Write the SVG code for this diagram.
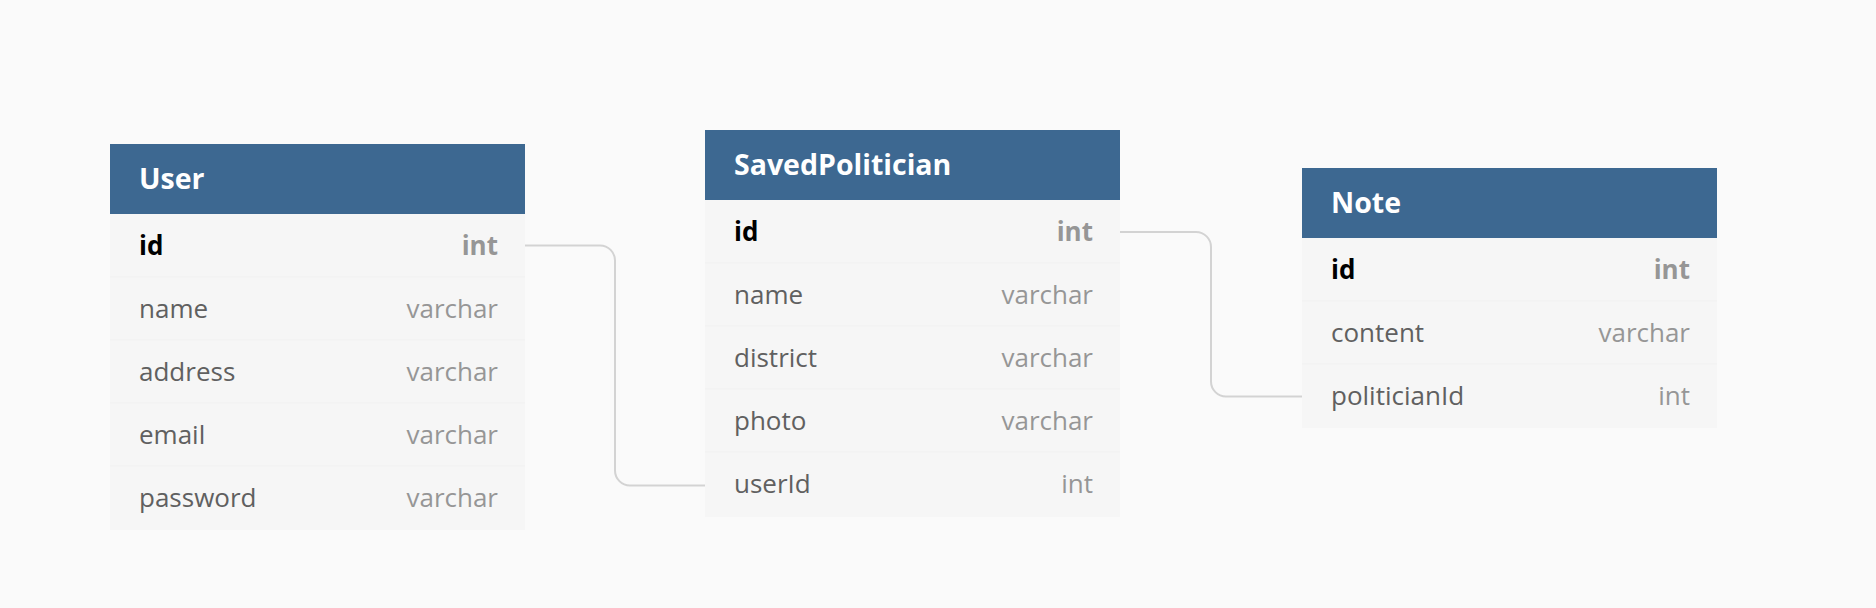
<svg xmlns="http://www.w3.org/2000/svg" width="1876" height="608" viewBox="0 0 1876 608">
<style>
.bg{fill:#fafafa}
.hdr{fill:#3d6891}
.body{fill:#f6f6f6}
.sep{stroke:#f1f1f1;stroke-width:1}
.title{font-family:"Open Sans",sans-serif;font-weight:700;font-size:28.5px;fill:#ffffff}
.fn{font-family:"Open Sans",sans-serif;font-size:26px;fill:#606060}
.ft{font-family:"Open Sans",sans-serif;font-size:26px;fill:#969696;text-anchor:end}
.pk{font-weight:700;fill:#000000}
.pkt{font-weight:700;fill:#969696}
.conn{fill:none;stroke:#d3d3d3;stroke-width:2}
</style>
<rect class="bg" x="0" y="0" width="1876" height="608"/>
<g id="connectors">
<path class="conn" d="M525 245.5 H600 A15 15 0 0 1 615 260.5 V470.5 A15 15 0 0 0 630 485.5 H705"/>
<path class="conn" d="M1120 232 H1196 A15 15 0 0 1 1211 247 V381.5 A15 15 0 0 0 1226 396.5 H1302"/>
</g>
<g id="User">
<rect class="body" x="110" y="214" width="415" height="316"/>
<line class="sep" x1="110" y1="277" x2="525" y2="277"/>
<line class="sep" x1="110" y1="340" x2="525" y2="340"/>
<line class="sep" x1="110" y1="403" x2="525" y2="403"/>
<line class="sep" x1="110" y1="466" x2="525" y2="466"/>
<rect class="hdr" x="110" y="144" width="415" height="70"/>
<text class="title" x="139" y="189">User</text>
<text class="fn pk" x="139" y="255">id</text><text class="ft pkt" x="498" y="255">int</text>
<text class="fn" x="139" y="318">name</text><text class="ft" x="498" y="318">varchar</text>
<text class="fn" x="139" y="381">address</text><text class="ft" x="498" y="381">varchar</text>
<text class="fn" x="139" y="444">email</text><text class="ft" x="498" y="444">varchar</text>
<text class="fn" x="139" y="507">password</text><text class="ft" x="498" y="507">varchar</text>
</g>
<g id="SavedPolitician">
<rect class="body" x="705" y="200" width="415" height="317"/>
<line class="sep" x1="705" y1="263" x2="1120" y2="263"/>
<line class="sep" x1="705" y1="326" x2="1120" y2="326"/>
<line class="sep" x1="705" y1="389" x2="1120" y2="389"/>
<line class="sep" x1="705" y1="452" x2="1120" y2="452"/>
<rect class="hdr" x="705" y="130" width="415" height="70"/>
<text class="title" x="734" y="175">SavedPolitician</text>
<text class="fn pk" x="734" y="241">id</text><text class="ft pkt" x="1093" y="241">int</text>
<text class="fn" x="734" y="304">name</text><text class="ft" x="1093" y="304">varchar</text>
<text class="fn" x="734" y="367">district</text><text class="ft" x="1093" y="367">varchar</text>
<text class="fn" x="734" y="430">photo</text><text class="ft" x="1093" y="430">varchar</text>
<text class="fn" x="734" y="493">userId</text><text class="ft" x="1093" y="493">int</text>
</g>
<g id="Note">
<rect class="body" x="1302" y="238" width="415" height="190"/>
<line class="sep" x1="1302" y1="301" x2="1717" y2="301"/>
<line class="sep" x1="1302" y1="364" x2="1717" y2="364"/>
<rect class="hdr" x="1302" y="168" width="415" height="70"/>
<text class="title" x="1331" y="213">Note</text>
<text class="fn pk" x="1331" y="279">id</text><text class="ft pkt" x="1690" y="279">int</text>
<text class="fn" x="1331" y="342">content</text><text class="ft" x="1690" y="342">varchar</text>
<text class="fn" x="1331" y="405">politicianId</text><text class="ft" x="1690" y="405">int</text>
</g>
</svg>
